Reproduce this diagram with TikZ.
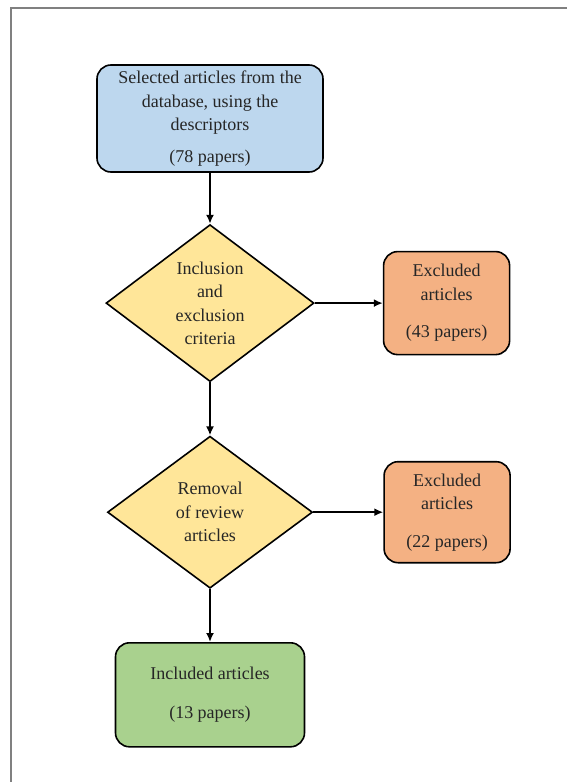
\documentclass[tikz,border=0pt]{standalone}
\usepackage{fontspec}
\setmainfont{Liberation Serif}
\newfontfamily\paperfont{Liberation Serif}
\usetikzlibrary{shapes,arrows.meta,positioning}
\tikzset{>={Latex[length=9pt,width=8pt]}}
\definecolor{dbblue}{HTML}{BDD7EE}
\definecolor{crityellow}{HTML}{FFE699}
\definecolor{exorange}{HTML}{F4B183}
\definecolor{incgreen}{HTML}{A9D18E}
\tikzstyle{paper} = [draw, rounded corners=14pt, line width=1.6pt,
    align=center, inner sep=2pt, text=black!85,
    font=\paperfont\fontsize{18}{23.5}\selectfont]
\tikzstyle{decision} = [draw, diamond, line width=1.6pt, fill=crityellow,
    align=center, inner sep=0pt, aspect=1.3, text=black!85,
    font=\paperfont\fontsize{18}{23.5}\selectfont]

\begin{document}
\begin{tikzpicture}[x=1pt,y=-1pt]
    \useasboundingbox (0,0) rectangle (567,782);
    \draw [gray, line width=2pt] (11,782) -- (11,8) -- (567,8);
    \node [paper, fill=dbblue, minimum width=226pt, minimum height=107pt] (select) at (210,118.5)
        {Selected articles from the\\database, using the\\descriptors\\[8pt](78 papers)};
    \node [decision, minimum width=208pt, minimum height=157pt, below=51pt of select] (criteria)
        {Inclusion\\and\\exclusion\\criteria};
    \node [paper, fill=exorange, minimum width=126pt, minimum height=103pt, right=68pt of criteria] (excl1)
        {Excluded\\articles\\[14pt](43 papers)};
    \node [decision, minimum width=205pt, minimum height=152pt, below=53pt of criteria] (review)
        {Removal\\of review\\articles};
    \node [paper, fill=exorange, minimum width=126pt, minimum height=101pt, right=70pt of review] (excl2)
        {Excluded\\articles\\[14pt](22 papers)};
    \node [paper, fill=incgreen, minimum width=189pt, minimum height=104pt, below=53pt of review] (incl)
        {Included articles\\[15pt](13 papers)};
    \draw [->, line width=1.8pt] (select) -- (criteria);
    \draw [->, line width=1.8pt] (criteria) -- (excl1);
    \draw [->, line width=1.8pt] (criteria) -- (review);
    \draw [->, line width=1.8pt] (review) -- (excl2);
    \draw [->, line width=1.8pt] (review) -- (incl);
  \end{tikzpicture}
\end{document}
